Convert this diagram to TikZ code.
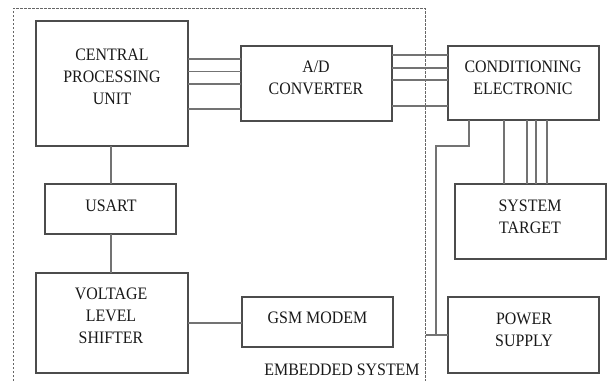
\documentclass[tikz,border=0pt]{standalone}
\usepackage{fontspec}
\setmainfont{Liberation Serif}[FakeStretch=0.91]
\begin{document}
\begin{tikzpicture}[x=1pt,y=-1pt,
  blk/.style={draw=black!70, line width=1.1pt},
  wire/.style={draw=black!55, line width=1.2pt},
  lbl/.style={align=center, font=\fontsize{17.5}{22}\selectfont, text=black!90, inner sep=0pt},
  bound/.style={draw=black!60, line width=0.8pt, dash pattern=on 2.5pt off 1.5pt}]
\useasboundingbox (0,0) rectangle (607,381);
% embedded system boundary
\coordinate (bl) at (13,381);
\coordinate (tl) at (13,8);
\coordinate (tr) at (425,8);
\coordinate (br) at (425,381);
\draw[bound] (bl) -- (tl) -- (tr) -- (br);
% boxes
\draw[blk] (36,21) rectangle (188,146);
\node[lbl] (cpu) at (112,77) {CENTRAL\\PROCESSING\\UNIT};
\draw[blk] (241,46) rectangle (392,121);
\node[lbl] (adc) at (316,78) {A/D\\CONVERTER};
\draw[blk] (448,46) rectangle (599,120);
\node[lbl] (cond) at (523,78) {CONDITIONING\\ELECTRONIC};
\draw[blk] (455,184) rectangle (606,259);
\node[lbl] (tgt) at (530,217) {SYSTEM\\TARGET};
\draw[blk] (448,297) rectangle (599,373);
\node[lbl] (psu) at (524,330) {POWER\\SUPPLY};
\draw[blk] (45,184) rectangle (176,234);
\node[lbl] (usart) at (111,206) {USART};
\draw[blk] (36,273) rectangle (188,373);
\node[lbl] (vls) at (111,316) {VOLTAGE\\LEVEL\\SHIFTER};
\draw[blk] (242,297) rectangle (393,347);
\node[lbl] (gsm) at (317.5,318) {GSM MODEM};
\node[lbl] (emb) at (342,370) {EMBEDDED SYSTEM};
% connectors
\foreach \y [count=\i] in {59,71.5,84,109} {
  \coordinate (ca\i) at (188,\y);
  \coordinate (ad\i) at (241,\y);
  \draw[wire] (ca\i) -- (ad\i);
}
\foreach \y [count=\i] in {55,68,80,106} {
  \coordinate (ao\i) at (392,\y);
  \coordinate (ci\i) at (448,\y);
  \draw[wire] (ao\i) -- (ci\i);
}
\foreach \x [count=\i] in {504,527,536,547} {
  \coordinate (co\i) at (\x,120);
  \coordinate (ti\i) at (\x,184);
  \draw[wire] (co\i) -- (ti\i);
}
\coordinate (cpub) at (111,146);
\coordinate (usat) at (111,184);
\coordinate (usab) at (111,234);
\coordinate (vlst) at (111,273);
\draw[wire] (cpub) -- (usat);
\draw[wire] (usab) -- (vlst);
\coordinate (vlsr) at (188,323);
\coordinate (gsml) at (242,323);
\draw[wire] (vlsr) -- (gsml);
\coordinate (condb) at (469,120);
\coordinate (psul) at (448,335);
\coordinate (stub) at (426,335);
\draw[wire] (condb) -- (469,146) -- (436,146) -- (436,335);
\draw[wire] (stub) -- (psul);
\end{tikzpicture}
\end{document}
